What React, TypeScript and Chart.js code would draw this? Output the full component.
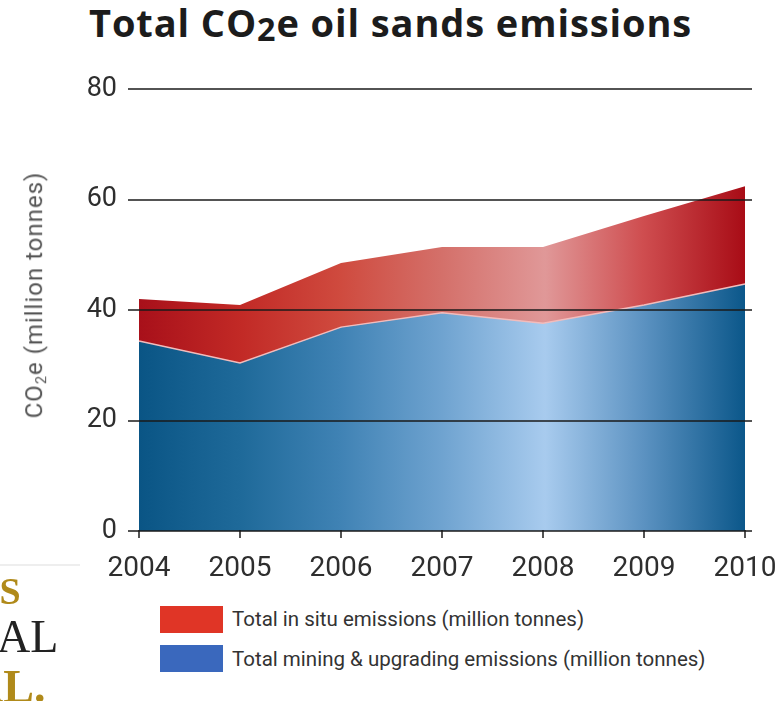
import React, { useEffect, useRef } from 'react';
import { Chart, registerables } from 'chart.js';

Chart.register(...registerables);

const years = [2004, 2005, 2006, 2007, 2008, 2009, 2010];
const miningUpgrading = [34.4, 30.4, 36.9, 39.5, 37.6, 40.9, 44.7];
const inSitu = [7.6, 10.5, 11.6, 11.9, 13.8, 16.1, 17.7];
const yTicks = [0, 20, 40, 60, 80];

const FONT = 'Roboto, "Open Sans", "DejaVu Sans", sans-serif';

const blueStops: [number, string][] = [
  [0, '#0a5585'], [0.17, '#1f6a9a'], [0.33, '#3f82b4'], [0.5, '#6fa3d0'],
  [0.67, '#a8cbee'], [0.83, '#5d93c2'], [1, '#0b578a'],
];
const redStops: [number, string][] = [
  [0, '#a8101a'], [0.17, '#c22a26'], [0.33, '#cf4a3e'], [0.5, '#d4706a'],
  [0.67, '#e09898'], [0.83, '#cf4e50'], [1, '#a80c16'],
];

function hGrad(chart: any, stops: [number, string][]) {
  const { ctx, chartArea, scales } = chart;
  if (!chartArea || !scales.x) return stops[0][1];
  const xs = scales.x;
  const g = ctx.createLinearGradient(
    xs.getPixelForValue(years[0]), 0,
    xs.getPixelForValue(years[years.length - 1]), 0
  );
  stops.forEach(([o, c]) => g.addColorStop(o, c));
  return g;
}

const gridOnTop = {
  id: 'gridOnTop',
  afterDatasetsDraw(chart: any) {
    const { ctx, scales, chartArea } = chart;
    const x = scales.x;
    const y = scales.y;
    ctx.save();
    ctx.strokeStyle = '#1a1a1a';
    ctx.lineWidth = 1.5;
    y.ticks.forEach((t: any) => {
      const py = Math.round(y.getPixelForValue(t.value));
      ctx.beginPath();
      ctx.moveTo(chartArea.left, py);
      ctx.lineTo(chartArea.right, py);
      ctx.stroke();
    });
    x.ticks.forEach((t: any) => {
      const px = Math.round(x.getPixelForValue(t.value));
      ctx.beginPath();
      ctx.moveTo(px, chartArea.bottom - 1);
      ctx.lineTo(px, chartArea.bottom + 7);
      ctx.stroke();
    });
    ctx.restore();
  },
};

export default function App() {
  const ref = useRef<HTMLCanvasElement>(null);

  useEffect(() => {
    document.body.style.margin = '0';
    const canvas = ref.current!;
    const chart = new Chart(canvas, {
      type: 'line',
      data: {
        datasets: [
          {
            label: 'Total mining & upgrading emissions (million tonnes)',
            data: years.map((yr, i) => ({ x: yr, y: miningUpgrading[i] })),
            fill: 'origin',
            backgroundColor: (c: any) => hGrad(c.chart, blueStops),
            borderColor: '#f2bcbc',
            borderWidth: 1.5,
            pointRadius: 0,
            tension: 0,
          },
          {
            label: 'Total in situ emissions (million tonnes)',
            data: years.map((yr, i) => ({ x: yr, y: inSitu[i] })),
            fill: '-1',
            backgroundColor: (c: any) => hGrad(c.chart, redStops),
            borderColor: 'rgba(0,0,0,0)',
            borderWidth: 0,
            pointRadius: 0,
            tension: 0,
          },
        ],
      },
      options: {
        animation: false,
        responsive: false,
        layout: { padding: { top: 89, right: 32, bottom: 9, left: 0 } },
        plugins: { legend: { display: false }, tooltip: { enabled: false } },
        scales: {
          x: {
            type: 'linear',
            min: years[0] - 0.109,
            max: years[years.length - 1] + 0.069,
            afterBuildTicks: (s: any) => { s.ticks = years.map((v) => ({ value: v })); },
            afterFit: (s: any) => { s.height = 60; s.paddingLeft = 0; s.paddingRight = 0; },
            grid: { display: false, drawTicks: false },
            border: { display: false },
            ticks: {
              padding: 21,
              color: '#2e2e2e',
              font: { family: FONT, size: 28 },
              maxRotation: 0,
              autoSkip: false,
              callback: (v: any) => String(v),
            },
          },
          y: {
            stacked: true,
            min: 0,
            max: 80,
            afterBuildTicks: (s: any) => { s.ticks = yTicks.map((v) => ({ value: v })); },
            afterFit: (s: any) => { s.width = 128; s.paddingTop = 0; s.paddingBottom = 0; },
            grid: { display: false, drawTicks: false },
            border: { display: false },
            ticks: {
              padding: 11,
              color: '#2e2e2e',
              font: { family: FONT, size: 27 },
              callback: (v: any) => String(v),
            },
          },
        },
      },
      plugins: [gridOnTop],
    } as any);
    return () => chart.destroy();
  }, []);

  const swatch: React.CSSProperties = {
    position: 'absolute', left: 160, width: 63, height: 27,
  };
  const legText: React.CSSProperties = {
    position: 'absolute', left: 232, fontFamily: FONT, fontSize: 20.5, color: '#333', whiteSpace: 'nowrap', lineHeight: 1,
  };

  return (
    <div style={{ position: 'relative', width: 784, height: 701, background: '#fff', overflow: 'hidden' }}>
      <div
        style={{
          position: 'absolute', left: 89, top: -4, fontFamily: '"Open Sans", Lato, sans-serif',
          fontWeight: 700, fontSize: 38, color: '#1c1c1c', whiteSpace: 'nowrap', letterSpacing: 0.9,
        }}
      >
        Total CO<span style={{ fontSize: '0.85em', verticalAlign: '-0.12em' }}>2</span>e oil sands emissions
      </div>
      <canvas ref={ref} width={784} height={600} style={{ position: 'absolute', left: 0, top: 0 }} />
      <div
        style={{
          position: 'absolute', left: 36, top: 295, transform: 'translate(-50%, -50%) rotate(-90deg)',
          fontFamily: FONT, fontSize: 24, letterSpacing: 1, color: '#555', whiteSpace: 'nowrap', lineHeight: 1,
        }}
      >
        CO<span style={{ fontSize: '0.6em', verticalAlign: '-0.3em' }}>2</span>e (million tonnes)
      </div>
      <div style={{ position: 'absolute', left: 0, top: 564, width: 80, height: 2, background: '#eee' }} />
      <div style={{ position: 'absolute', left: -28, top: 572, fontFamily: '"Liberation Serif", serif', fontWeight: 700, fontSize: 38, color: '#b08a1a', lineHeight: 1 }}>
        AS
      </div>
      <div style={{ position: 'absolute', left: -3, top: 614, fontFamily: '"Liberation Serif", serif', fontSize: 46, color: '#222', lineHeight: 1 }}>
        AL
      </div>
      <div style={{ position: 'absolute', left: -30, top: 664, fontFamily: '"Liberation Serif", serif', fontWeight: 700, fontSize: 46, color: '#b08a1a', lineHeight: 1 }}>
        AL.
      </div>
      <div style={{ ...swatch, background: '#e03526', top: 606 }} />
      <div style={{ ...legText, top: 609 }}>Total in situ emissions (million tonnes)</div>
      <div style={{ ...swatch, background: '#3a68bd', top: 645 }} />
      <div style={{ ...legText, top: 649 }}>Total mining &amp; upgrading emissions (million tonnes)</div>
    </div>
  );
}
